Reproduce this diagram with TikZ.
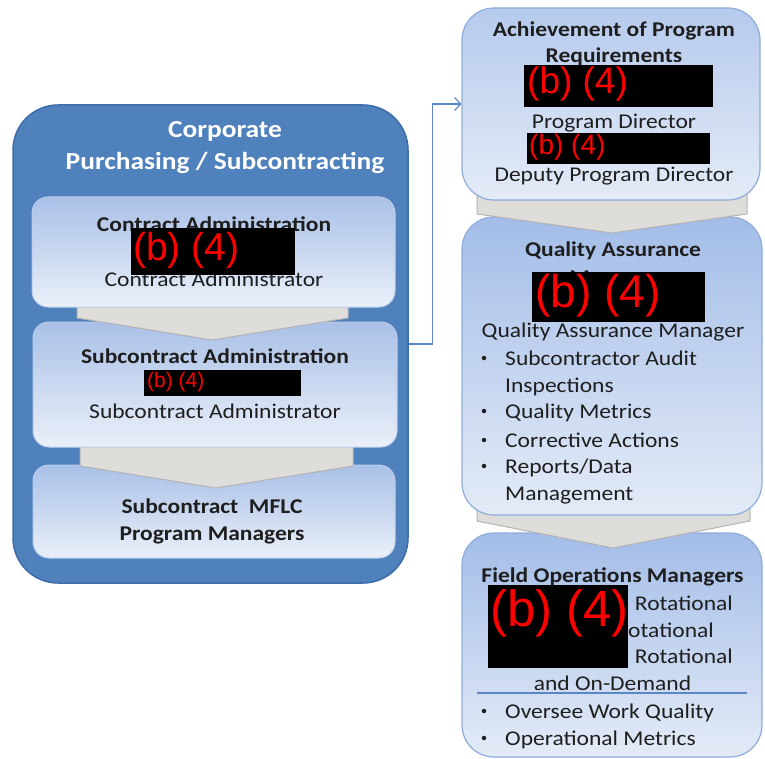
\documentclass[tikz,border=0pt]{standalone}
\usepackage{fontspec}
\setmainfont{Carlito}[FakeStretch=1.12]
\newfontfamily\redfont{Liberation Sans}
\usetikzlibrary{arrows.meta}

\definecolor{outerblue}{HTML}{4F81BD}
\definecolor{outerline}{HTML}{3D6CA6}
\definecolor{innertop}{HTML}{A9C0E7}
\definecolor{innerbot}{HTML}{EAF0F9}
\definecolor{innerline}{HTML}{BCCDEA}
\definecolor{righttop}{HTML}{A3BDE8}
\definecolor{rightbot}{HTML}{E4EBF7}
\definecolor{rightline}{HTML}{8EACDC}
\definecolor{chevfill}{HTML}{DEDDDA}
\definecolor{chevline}{HTML}{B3B3B3}
\definecolor{conncol}{HTML}{5B87C5}
\definecolor{ink}{HTML}{1E1E1E}

\tikzset{
  outerbox/.style={fill=outerblue, draw=outerline, line width=1.5pt,
    rounded corners=45pt, inner sep=0pt},
  innerbox/.style={top color=innertop, bottom color=innerbot, draw=innerline,
    line width=1pt, rounded corners=16pt, inner sep=0pt},
  rightbox/.style={top color=righttop, bottom color=rightbot, draw=rightline,
    line width=1.2pt, rounded corners=32pt, inner sep=0pt},
  chevron/.style={fill=chevfill, draw=chevline, line width=1pt, line join=round},
  redact/.style={fill=black, inner sep=0pt},
  redtxt/.style={text=red, anchor=base west, inner sep=0pt},
  txt/.style={text=ink, anchor=base, inner sep=0pt, font=\fontsize{21}{27}\selectfont},
  hd/.style={txt, font=\fontsize{21}{27}\selectfont\bfseries},
  ttl/.style={text=white, anchor=base, inner sep=0pt, font=\fontsize{24.5}{30}\selectfont\bfseries},
  bul/.style={txt, anchor=base west},
  dot/.style={circle, fill=ink, inner sep=0pt, minimum size=4.5pt},
  conn/.style={draw=conncol, line width=1.2pt, -{Straight Barb[length=6pt,width=13pt]}},
  sepline/.style={draw=conncol, line width=1.2pt},
}

\begin{document}
\begin{tikzpicture}[x=1pt, y=-1pt]
\useasboundingbox (0,0) rectangle (765,759);

% ---------- corporate purchasing / subcontracting ----------
\node[outerbox, minimum width=395pt, minimum height=478pt] (corp) at (210.5,344) {};
\node[ttl] (corpa) at (225,138) {Corporate};
\node[ttl] (corpb) at (225,170) {Purchasing / Subcontracting};

% stacked boxes, lowest first so each chevron sits over the box below it
\node[innerbox, minimum width=362pt, minimum height=93pt] (mflc) at (214,511.5) {};
\draw[chevron] (80,440) -- (353,440) -- (353,466) -- (216,488) -- (80,466) -- cycle;
\node[innerbox, minimum width=364pt, minimum height=125pt] (subadm) at (215,384.5) {};
\draw[chevron] (77,300) -- (348,300) -- (348,318) -- (212,340) -- (77,318) -- cycle;
\node[innerbox, minimum width=363pt, minimum height=110pt] (conadm) at (213.5,252) {};

% contract administration
\node[hd] (conhd) at (214,232) {Contract Administration};
\node[txt] (conrole) at (214,286) {Contract Administrator};
\node[redact, minimum width=164pt, minimum height=47pt] (conred) at (213,251.5) {};
\node[redtxt, font=\redfont\fontsize{39}{39}\selectfont] (conb4) at (133,260) {(b) (4)};

% subcontract administration
\node[hd] (subhd) at (215,363) {Subcontract Administration};
\node[redact, minimum width=157pt, minimum height=26pt] (subred) at (222.5,383) {};
\node[redtxt, font=\redfont\fontsize{21}{21}\selectfont] (subb4) at (147,387.5) {(b) (4)};
\node[txt] (subrole) at (215,418) {Subcontract Administrator};

% MFLC program managers
\node[hd] (mflca) at (212,513) {Subcontract~~MFLC};
\node[hd] (mflcb) at (212,540) {Program Managers};

% ---------- right column ----------
\node[rightbox, minimum width=300pt, minimum height=224pt] (fom) at (612,645) {};
\draw[chevron] (477,505) -- (750,505) -- (750,521) -- (613,548) -- (477,521) -- cycle;
\node[rightbox, minimum width=300pt, minimum height=298pt] (qa) at (612,366) {};
\draw[chevron] (477,190) -- (747,190) -- (747,214) -- (612,233) -- (477,214) -- cycle;
\node[rightbox, top color=righttop!80!white, minimum width=298pt, minimum height=192pt] (achv) at (611,104) {};

% achievement of program requirements
\node[hd] (achva) at (614,37) {Achievement of Program};
\node[hd] (achvb) at (614,63) {Requirements};
\node[redact, minimum width=189pt, minimum height=42pt] (achred) at (618.5,86) {};
\node[redtxt, font=\redfont\fontsize{37}{37}\selectfont] (achb4) at (527,94) {(b) (4)};
\node[txt] (pdir) at (614,129) {Program Director};
\node[redact, minimum width=183pt, minimum height=31pt] (dpred) at (618.5,148.5) {};
\node[redtxt, font=\redfont\fontsize{28}{28}\selectfont] (dpb4) at (529,155) {(b) (4)};
\node[txt] (dpdir) at (614,182) {Deputy Program Director};

% quality assurance
\node[hd] (qahd) at (613,257) {Quality Assurance};
\node[hd] (qamgr) at (613,284) {Manager};
\node[redact, minimum width=173pt, minimum height=50pt] (qared) at (618.5,297) {};
\node[redtxt, font=\redfont\fontsize{46}{46}\selectfont] (qab4) at (535,307) {(b) (4)};
\node[txt] (qarole) at (613,337) {Quality Assurance Manager};
\foreach \i/\y in {1/365, 3/418, 4/447, 5/473} {
  \node[dot] (qadot\i) at (484,\y-7) {};
}
\foreach \i/\y/\t in {1/365/{Subcontractor Audit}, 2/392/{Inspections}, 3/418/{Quality Metrics},
                      4/447/{Corrective Actions}, 5/473/{Reports/Data}, 6/500/{Management}} {
  \node[bul] (qaitem\i) at (505,\y) {\t};
}

% field operations managers
\node[hd] (fomhd) at (612.5,582) {Field Operations Managers};
\node[txt, anchor=base east] (rota) at (733,610) {Rotational};
\node[txt, anchor=base west] (rotb) at (628,637) {otational};
\node[txt, anchor=base east] (rotc) at (733,663) {Rotational};
\node[txt] (ondem) at (612.5,690) {and On-Demand};
\node[redact, minimum width=140pt, minimum height=83pt] (fomred) at (558,626.5) {};
\node[redtxt, font=\redfont\fontsize{51}{51}\selectfont] (fomb4) at (490,626) {(b) (4)};
\draw[sepline] (477,693) -- (747,693);
\node[dot] (fomdot1) at (484,711) {};
\node[dot] (fomdot2) at (484,738) {};
\node[bul] (fomitem1) at (505,718) {Oversee Work Quality};
\node[bul] (fomitem2) at (505,745) {Operational Metrics};

% ---------- connector ----------
\draw[conn] (corp.east) -- ++(24,0) |- (achv.west);
\end{tikzpicture}
\end{document}
